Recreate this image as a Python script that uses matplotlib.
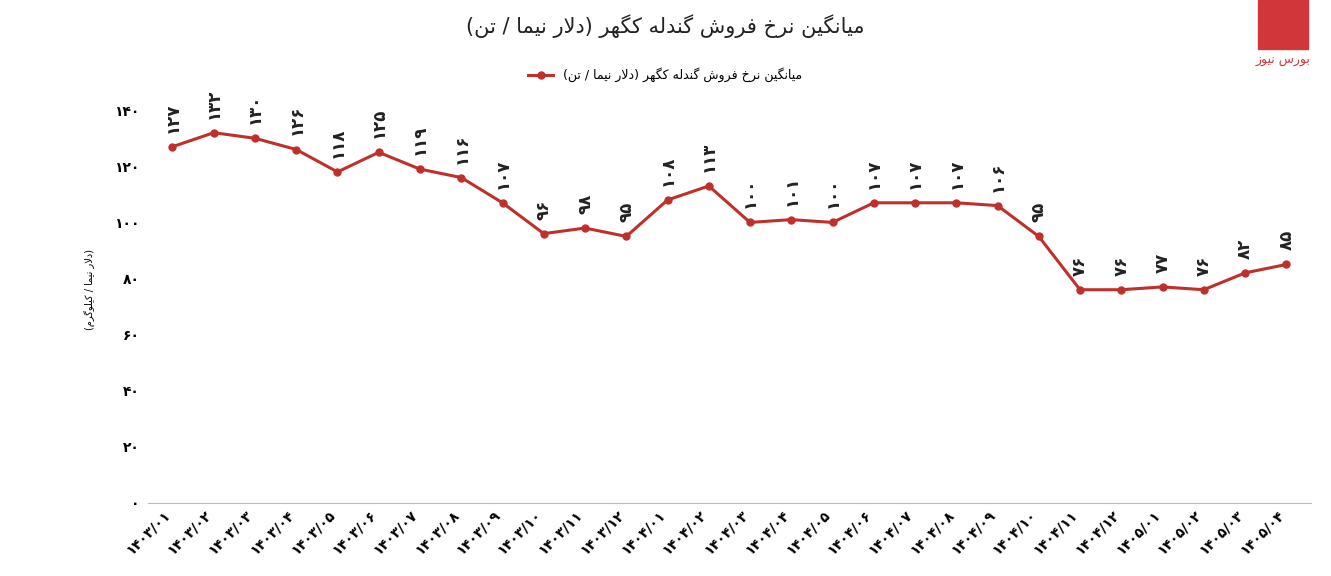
import matplotlib
matplotlib.use("Agg")
import matplotlib.pyplot as plt
import matplotlib.patches as mpatches

plt.rcParams['font.family'] = ['DejaVu Sans']

months = ["1403/01", "1403/02", "1403/03", "1403/04", "1403/05", "1403/06",
          "1403/07", "1403/08", "1403/09", "1403/10", "1403/11", "1403/12",
          "1404/01", "1404/02", "1404/03", "1404/04", "1404/05", "1404/06",
          "1404/07", "1404/08", "1404/09", "1404/10", "1404/11", "1404/12",
          "1405/01", "1405/02", "1405/03", "1405/04"]
prices = [127, 132, 130, 126, 118, 125, 119, 116, 107, 96, 98, 95,
          108, 113, 100, 101, 100, 107, 107, 107, 106, 95, 76, 76,
          77, 76, 82, 85]
y_ticks = [0, 20, 40, 60, 80, 100, 120, 140]

title_text = "میانگین نرخ فروش گندله کگهر (دلار نیما / تن)"
legend_text = "میانگین نرخ فروش گندله کگهر (دلار نیما / تن)"
ylabel_text = "(دلار نیما / کیلوگرم)"
logo_text = "بورس نیوز"

# minimal arabic shaping: isolated, final, initial, medial
FORMS = {
    'ا': ('\uFE8D', '\uFE8E', None, None),
    'د': ('\uFEA9', '\uFEAA', None, None),
    'ر': ('\uFEAD', '\uFEAE', None, None),
    'ز': ('\uFEAF', '\uFEB0', None, None),
    'و': ('\uFEED', '\uFEEE', None, None),
    'ب': ('\uFE8F', '\uFE90', '\uFE91', '\uFE92'),
    'ت': ('\uFE95', '\uFE96', '\uFE97', '\uFE98'),
    'خ': ('\uFEA5', '\uFEA6', '\uFEA7', '\uFEA8'),
    'س': ('\uFEB1', '\uFEB2', '\uFEB3', '\uFEB4'),
    'ش': ('\uFEB5', '\uFEB6', '\uFEB7', '\uFEB8'),
    'ف': ('\uFED1', '\uFED2', '\uFED3', '\uFED4'),
    'ک': ('\uFB8E', '\uFB8F', '\uFB90', '\uFB91'),
    'گ': ('\uFB92', '\uFB93', '\uFB94', '\uFB95'),
    'ل': ('\uFEDD', '\uFEDE', '\uFEDF', '\uFEE0'),
    'م': ('\uFEE1', '\uFEE2', '\uFEE3', '\uFEE4'),
    'ن': ('\uFEE5', '\uFEE6', '\uFEE7', '\uFEE8'),
    'ه': ('\uFEE9', '\uFEEA', '\uFEEB', '\uFEEC'),
    'ی': ('\uFBFC', '\uFBFD', '\uFBFE', '\uFBFF'),
}
LAM_ALEF = ('\uFEFB', '\uFEFC')


def shape(text):
    text = text.replace('لا', '\x01')
    out = []
    n = len(text)
    for i, ch in enumerate(text):
        if ch == '\x01':
            prev = text[i - 1] if i > 0 else ''
            joined = prev in FORMS and FORMS[prev][2] is not None
            out.append(LAM_ALEF[1] if joined else LAM_ALEF[0])
            continue
        if ch not in FORMS:
            out.append(ch)
            continue
        prev = text[i - 1] if i > 0 else ''
        nxt = text[i + 1] if i + 1 < n else ''
        jp = prev in FORMS and FORMS[prev][2] is not None
        jn = FORMS[ch][2] is not None and (nxt in FORMS or nxt == '\x01')
        iso, fin, ini, med = FORMS[ch]
        if jp and jn:
            out.append(med)
        elif jp:
            out.append(fin)
        elif jn:
            out.append(ini)
        else:
            out.append(iso)
    s = ''.join(out)[::-1]
    return s.translate(str.maketrans('()', ')('))


FA_DIGITS = str.maketrans('0123456789', '۰۱۲۳۴۵۶۷۸۹')


def fa(s):
    return str(s).translate(FA_DIGITS)


red = '#c0302b'
fig = plt.figure(figsize=(13.31, 5.76), dpi=100)
ax = fig.add_axes([0.111, 0.127, 0.874, 0.74])

x = list(range(len(months)))
line, = ax.plot(x, prices, color=red, linewidth=2.2, marker='o', markersize=5)
for xi, v in zip(x, prices):
    ax.text(xi, v + 5, fa(v), rotation=90, ha='center', va='bottom',
            fontsize=12, fontweight='bold', color='#222222')

ax.set_xlim(-0.6, len(months) - 0.4)
ax.set_ylim(0, 152)
ax.set_yticks(y_ticks)
ax.set_yticklabels([fa(t) for t in y_ticks], fontsize=10, fontweight='bold')
ax.set_xticks(x)
ax.set_xticklabels([fa(m) for m in months], rotation=45, ha='right',
                   fontsize=10, fontweight='bold')
for s in ['top', 'right', 'left']:
    ax.spines[s].set_visible(False)
ax.spines['bottom'].set_color('#bbbbbb')
ax.tick_params(axis='y', length=0, pad=6)
ax.tick_params(axis='x', length=0)
ax.set_ylabel(shape(ylabel_text), fontsize=7, rotation=90, labelpad=0)
ax.yaxis.set_label_coords(-0.045, 0.5)

fig.text(0.5, 0.955, shape(title_text), ha='center', va='center',
         fontsize=15, color='#222222')
fig.legend([line], [shape(legend_text)], loc='center',
           bbox_to_anchor=(0.5, 0.87), frameon=False, fontsize=9)

# logo
fig.patches.append(mpatches.Rectangle((0.945, 0.915), 0.038, 0.085,
                                      transform=fig.transFigure,
                                      color='#d0363a'))
fig.text(0.964, 0.895, shape(logo_text), ha='center', va='center',
         fontsize=9, color='#d0363a')

fig.savefig('out.png', dpi=100)
